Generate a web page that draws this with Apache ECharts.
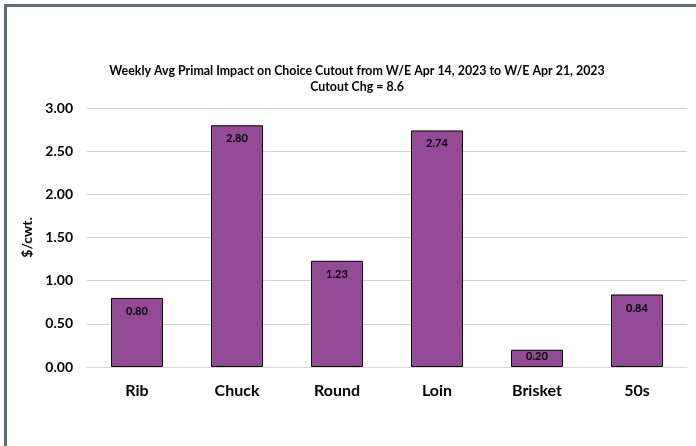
<!DOCTYPE html>
<html>
<head>
<meta charset="utf-8">
<script src="https://cdn.jsdelivr.net/npm/echarts@6/dist/echarts.min.js"></script>
<style>
  html, body { margin: 0; padding: 0; background: #fff; }
  #frame { position: absolute; left: 4px; top: 4px; width: 692px; height: 442px;
           border-left: 3px solid #5e6b79; border-top: 3px solid #5e6b79; box-sizing: border-box; }
  #chart { position: absolute; left: 0; top: 0; width: 696px; height: 446px; }
</style>
</head>
<body>
<div id="frame"></div>
<div id="chart"></div>
<script>
// Primal categories and their weekly impact on the Choice cutout ($/cwt.)
const primals = ['Rib', 'Chuck', 'Round', 'Loin', 'Brisket', '50s'];
const impact = [0.80, 2.80, 1.23, 2.74, 0.20, 0.84];
const yTicks = { min: 0, max: 3, interval: 0.5 };

const FONT = 'Lato, "Open Sans", sans-serif';
const chart = echarts.init(document.getElementById('chart'), null, { renderer: 'canvas' });

// Short bars get their value label tucked right under the top edge
const barData = impact.map(v => v < 0.5
  ? { value: v, label: { distance: 1 } }
  : v);

chart.setOption({
  animation: false,
  title: {
    text: 'Weekly Avg Primal Impact on Choice Cutout from W/E Apr 14, 2023 to W/E Apr 21, 2023\nCutout Chg = 8.6',
    left: 352,
    textAlign: 'center',
    top: 58,
    textStyle: { fontFamily: FONT, fontSize: 12.4, fontWeight: 'bold', color: '#000', lineHeight: 16 }
  },
  grid: { left: 87, right: 9, top: 108, bottom: 79 },
  xAxis: {
    type: 'category',
    data: primals,
    axisLine: { show: true, lineStyle: { color: '#d9d9d9', width: 1 } },
    axisTick: { show: false },
    axisLabel: { fontFamily: FONT, fontSize: 16, fontWeight: 'bold', color: '#000', margin: 16 }
  },
  yAxis: {
    type: 'value',
    min: yTicks.min,
    max: yTicks.max,
    interval: yTicks.interval,
    name: '$/cwt.',
    nameLocation: 'middle',
    nameGap: 52,
    nameTextStyle: { fontFamily: FONT, fontSize: 14, fontWeight: 'bold', color: '#000' },
    axisLine: { show: false },
    axisTick: { show: false },
    axisLabel: {
      fontFamily: FONT, fontSize: 14, fontWeight: 'bold', color: '#000', margin: 14,
      formatter: v => v.toFixed(2)
    },
    splitLine: { lineStyle: { color: '#d0d0d0', width: 1 } }
  },
  series: [{
    type: 'bar',
    data: barData,
    barWidth: '52%',
    itemStyle: { color: '#934b98', borderColor: '#000', borderWidth: 1 },
    label: {
      show: true,
      position: 'insideTop',
      distance: 8,
      fontFamily: FONT, fontSize: 11, fontWeight: 'bold', color: '#000',
      formatter: p => p.value.toFixed(2)
    }
  }]
});
</script>
</body>
</html>
